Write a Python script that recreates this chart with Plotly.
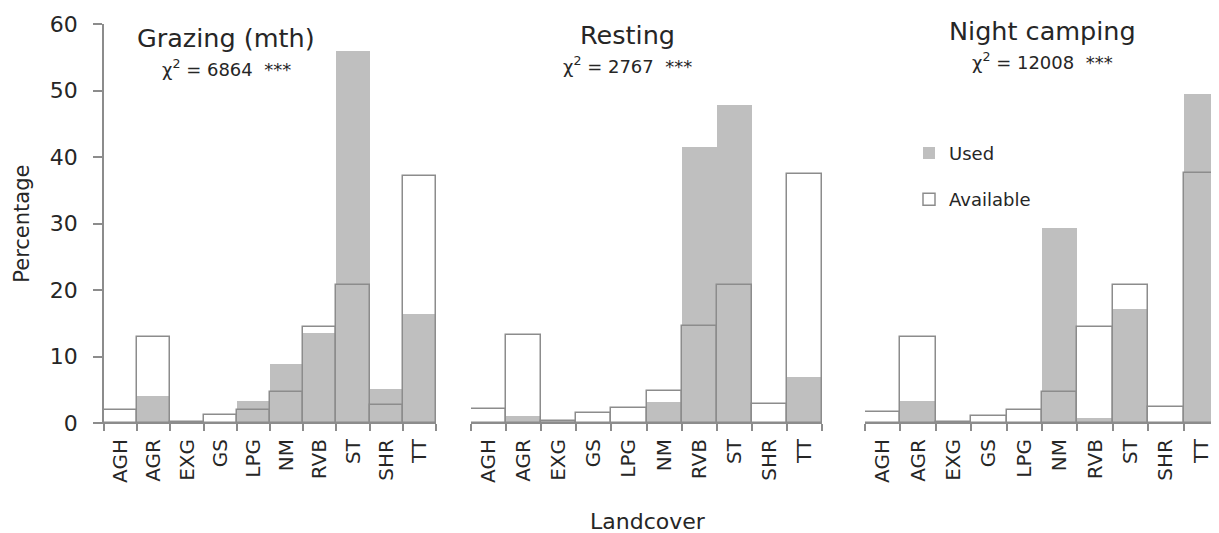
import plotly.graph_objects as go

# The page body adds an 8px margin, so the figure is drawn 8px smaller and
# every reference pixel position is shifted by OFF.
OFF = 8
W, H = 1219 - OFF, 533 - OFF

categories = ["AGH", "AGR", "EXG", "GS", "LPG", "NM", "RVB", "ST", "SHR", "TT"]

grazing_used = [0, 4.1, 0.2, 0, 3.35, 8.9, 13.5, 55.9, 5.1, 16.4]
grazing_avail = [1.9, 13.0, 0.2, 1.25, 1.9, 4.6, 14.4, 20.8, 2.65, 37.2]

resting_used = [0, 1.0, 0.3, 0, 0, 3.1, 41.5, 47.8, 0, 6.9]
resting_avail = [2.1, 13.3, 0.35, 1.5, 2.3, 4.76, 14.6, 20.8, 2.85, 37.4]

night_used = [0, 3.25, 0.2, 0, 0, 29.3, 0.75, 17.1, 0, 49.4]
night_avail = [1.65, 13.0, 0.15, 1.1, 1.9, 4.6, 14.4, 20.8, 2.4, 37.6]

panel_titles = ["Grazing (mth)", "Resting", "Night camping"]
chi_values = ["6864", "2767", "12008"]
y_ticks = [0, 10, 20, 30, 40, 50, 60]

FONT = "DejaVu Sans"
USED_COLOR = "#bfbfbf"
LINE_COLOR = "#8c8c8c"
TEXT = "#262626"

# layout geometry in reference pixels
PLOT_TOP = 24.3 - OFF
PLOT_BOT = 423.3 - OFF
domains_px = [(104, 436), (471, 822), (865, 1221)]

fig = go.Figure()
panels = [(grazing_used, grazing_avail), (resting_used, resting_avail), (night_used, night_avail)]
for i, (used, avail) in enumerate(panels):
    xa = "x" if i == 0 else f"x{i+1}"
    ya = "y" if i == 0 else f"y{i+1}"
    fig.add_trace(go.Bar(x=categories, y=used, name="Used", xaxis=xa, yaxis=ya,
                         marker=dict(color=USED_COLOR, line=dict(width=0)),
                         showlegend=(i == 0), legendgroup="used"))
    fig.add_trace(go.Bar(x=categories, y=avail, name="Available", xaxis=xa, yaxis=ya,
                         marker=dict(color="rgba(255,255,255,0)", line=dict(color=LINE_COLOR, width=1.5)),
                         showlegend=(i == 0), legendgroup="avail"))

plot_h = PLOT_BOT - PLOT_TOP
def px_x(p):
    return min((p - OFF) / W, 1.0)
def px_y(p):
    return (PLOT_BOT - (p - OFF)) / plot_h

layout = dict(
    width=W, height=H,
    margin=dict(l=0, r=0, t=PLOT_TOP, b=H - PLOT_BOT, pad=0),
    paper_bgcolor="white", plot_bgcolor="white",
    barmode="overlay", bargap=0,
    font=dict(family=FONT, color=TEXT),
    showlegend=True,
    legend=dict(x=px_x(909), y=px_y(135), xanchor="left", yanchor="top",
                font=dict(size=18, family=FONT, color=TEXT),
                tracegroupgap=20, itemwidth=30, bgcolor="rgba(0,0,0,0)"),
)

for i, (a, b) in enumerate(domains_px):
    xk = "xaxis" if i == 0 else f"xaxis{i+1}"
    yk = "yaxis" if i == 0 else f"yaxis{i+1}"
    layout[xk] = dict(domain=[px_x(a), px_x(b)], type="category", anchor="y" if i == 0 else f"y{i+1}",
                      tickson="boundaries", ticks="outside", ticklen=7, tickcolor=LINE_COLOR,
                      tickwidth=1.5, showline=True, linecolor=LINE_COLOR, linewidth=1,
                      tickangle=-90, tickfont=dict(size=20, family=FONT, color=TEXT),
                      ticklabelstandoff=7,
                      showgrid=False, zeroline=False, fixedrange=True)
    ydict = dict(range=[0, 60], anchor="x" if i == 0 else f"x{i+1}", showgrid=False, zeroline=False)
    if i == 0:
        ydict.update(showline=True, linecolor=LINE_COLOR, linewidth=1.5, ticks="outside",
                     ticklen=9, tickcolor=LINE_COLOR, tickwidth=1.5, tickvals=y_ticks,
                     tickfont=dict(size=22, family=FONT, color=TEXT), ticklabelstandoff=11)
    else:
        ydict.update(visible=False)
    layout[yk] = ydict

fig.update_layout(**layout)

title_pos = [(226, 38, 68), (627, 35, 65), (1042, 31, 61)]
for (cx, ty, cy), t, chi in zip(title_pos, panel_titles, chi_values):
    fig.add_annotation(text=t, x=px_x(cx), y=px_y(ty), xref="paper", yref="paper",
                       showarrow=False, xanchor="center", yanchor="middle",
                       font=dict(size=25.5, family=FONT, color=TEXT))
    fig.add_annotation(text="χ<sup>2</sup> = " + chi + "\u00a0\u00a0***", x=px_x(cx), y=px_y(cy),
                       xref="paper", yref="paper", showarrow=False, xanchor="center", yanchor="middle",
                       font=dict(size=18, family=FONT, color=TEXT))

fig.add_annotation(text="Percentage", x=px_x(22), y=px_y(224), xref="paper", yref="paper",
                   showarrow=False, textangle=-90, xanchor="center", yanchor="middle",
                   font=dict(size=21, family=FONT, color=TEXT))
fig.add_annotation(text="Landcover", x=px_x(648), y=px_y(522), xref="paper", yref="paper",
                   showarrow=False, xanchor="center", yanchor="middle",
                   font=dict(size=22, family=FONT, color=TEXT))

fig.write_html("out.html")
